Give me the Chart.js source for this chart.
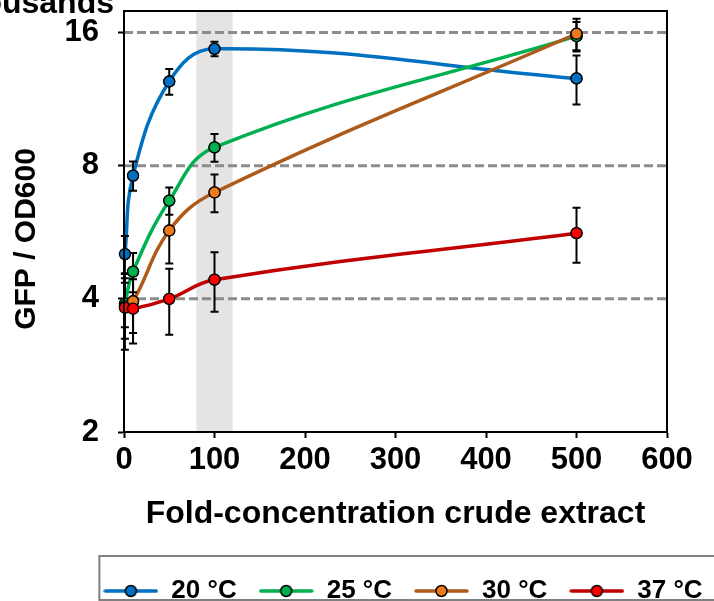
<!DOCTYPE HTML>
<html>
  <head>
    <script src="https://cdn.jsdelivr.net/npm/chart.js"></script>
    <style>
      html, body { margin: 0; padding: 0; background: #fff; }
    </style>
  </head>
  <body>
    <div style="position: relative; width: 714px; height: 601px;">
      <canvas id="gfp-chart"></canvas>
    </div>

    <script>
      // x = fold concentration of crude extract, y = GFP / OD600 (thousands)
      const concentrations = [1, 10, 50, 100, 500];
      const gfp20 = [5.05, 7.6, 12.4, 14.7, 12.6];
      const err20 = [0.5, 0.58, 0.83, 0.55, 1.6];
      const gfp25 = [3.9, 4.61, 6.67, 8.8, 15.7];
      const err25 = [0.45, 0.47, 0.47, 0.63, 1.2];
      const gfp30 = [3.85, 3.95, 5.71, 6.96, 15.9];
      const err30 = [0.6, 0.6, 0.9, 0.68, 1.3];
      const gfp37 = [3.82, 3.8, 4.0, 4.42, 5.63];
      const err37 = [0.75, 0.63, 0.68, 0.68, 0.8];
      const seriesLabels = ['20 °C', '25 °C', '30 °C', '37 °C'];
      const yTicks = [2, 4, 8, 16];
      const dashedLevels = [4, 8, 16];
      const shadedRange = [80, 120];

      const FONT = '"Liberation Sans", Arial, sans-serif';
      const lineColors = ['#0070C0', '#00B050', '#AD5A1B', '#C00000'];
      const markerColors = ['#0070C0', '#00B050', '#EC7A1A', '#FF0000'];
      const allValues = [gfp20, gfp25, gfp30, gfp37];
      const allErrors = [err20, err25, err30, err37];

      function makeIcon(lineColor, fillColor) {
        const c = document.createElement('canvas');
        c.width = 55; c.height = 16;
        const g = c.getContext('2d');
        g.strokeStyle = lineColor; g.lineWidth = 3.5; g.lineCap = 'round';
        g.beginPath(); g.moveTo(2, 8); g.lineTo(53, 8); g.stroke();
        g.beginPath(); g.arc(27.5, 8, 5.5, 0, 2 * Math.PI);
        g.fillStyle = fillColor; g.fill();
        g.lineWidth = 1.5; g.strokeStyle = '#000'; g.stroke();
        return c;
      }
      const legendIcons = lineColors.map((c, i) => makeIcon(c, markerColors[i]));

      const decorations = {
        id: 'decorations',
        beforeDatasetsDraw(chart) {
          const {ctx, chartArea: a, scales: {x, y}} = chart;
          ctx.save();
          const x0 = x.getPixelForValue(shadedRange[0]);
          const x1 = x.getPixelForValue(shadedRange[1]);
          ctx.fillStyle = '#e4e4e4';
          ctx.fillRect(x0, a.top, x1 - x0, a.bottom - a.top);
          ctx.strokeStyle = '#8c8c8c';
          ctx.lineWidth = 3;
          ctx.setLineDash([9, 4]);
          dashedLevels.forEach(v => {
            const py = y.getPixelForValue(v);
            ctx.beginPath(); ctx.moveTo(a.left, py); ctx.lineTo(a.right, py); ctx.stroke();
          });
          ctx.restore();
        },
        afterDatasetsDraw(chart) {
          const {ctx, chartArea: a, scales: {x, y}} = chart;
          ctx.save();
          ctx.strokeStyle = '#000';
          ctx.lineWidth = 2;
          allValues.forEach((vals, s) => {
            vals.forEach((v, i) => {
              const px = x.getPixelForValue(concentrations[i]);
              const top = y.getPixelForValue(v + allErrors[s][i]);
              const bot = y.getPixelForValue(v - allErrors[s][i]);
              ctx.beginPath();
              ctx.moveTo(px, top); ctx.lineTo(px, bot);
              ctx.moveTo(px - 4, top); ctx.lineTo(px + 4, top);
              ctx.moveTo(px - 4, bot); ctx.lineTo(px + 4, bot);
              ctx.stroke();
            });
          });
          // markers back on top of the error bars
          chart.data.datasets.forEach((ds, i) => {
            chart.getDatasetMeta(i).data.forEach(pt => pt.draw(ctx, a));
          });
          ctx.strokeStyle = '#000';
          ctx.lineWidth = 2;
          ctx.strokeRect(a.left, a.top, a.right - a.left, a.bottom - a.top);
          ctx.restore();
        },
        afterDraw(chart) {
          const {ctx} = chart;
          ctx.save();
          ctx.fillStyle = '#000';
          ctx.font = 'bold 32px ' + FONT;
          ctx.textAlign = 'right';
          ctx.textBaseline = 'alphabetic';
          ctx.fillText('Thousands', 114, 13);
          ctx.font = 'bold 30px ' + FONT;
          ctx.translate(27, 239);
          ctx.rotate(-Math.PI / 2);
          ctx.textAlign = 'center';
          ctx.textBaseline = 'middle';
          ctx.fillText('GFP / OD600', 0, 0);
          ctx.restore();

          const lg = chart.legend;
          const hb = lg.legendHitBoxes[0];
          ctx.save();
          ctx.strokeStyle = '#808080';
          ctx.lineWidth = 2;
          ctx.strokeRect(hb.left - 4, lg.top, chart.width, 44);
          ctx.restore();
        }
      };

      const noPad = s => { s.paddingTop = 0; s.paddingBottom = 0; };

      const ctx = document.getElementById('gfp-chart');
      const gfpChart = new Chart(ctx, {
        type: 'line',
        data: {
          datasets: allValues.map((vals, i) => ({
            label: seriesLabels[i],
            data: concentrations.map((c, j) => ({x: c, y: vals[j]})),
            borderColor: lineColors[i],
            backgroundColor: markerColors[i],
            borderWidth: 3.5,
            pointRadius: 5.5,
            pointBackgroundColor: markerColors[i],
            pointBorderColor: '#000',
            pointBorderWidth: 1.3,
            tension: 0.4,
            fill: false,
            order: 3 - i
          }))
        },
        options: {
          responsive: true,
          maintainAspectRatio: false,
          animation: false,
          layout: { padding: { left: 0, right: -92, top: 11, bottom: -13 } },
          scales: {
            x: {
              type: 'linear', min: 0, max: 600,
              ticks: { stepSize: 100, color: '#000', padding: 4, maxRotation: 0,
                       font: { family: FONT, size: 31, weight: 'bold' } },
              grid: { drawOnChartArea: false, tickLength: 6, tickWidth: 2, tickColor: '#000' },
              border: { color: '#000', width: 2 },
              title: { display: true, text: 'Fold-concentration crude extract', color: '#000',
                       font: { family: FONT, size: 32, weight: 'bold' },
                       padding: { top: 0, bottom: 23 } },
              afterFit: s => { s.height = 124; }
            },
            y: {
              type: 'logarithmic', min: 2, max: 17.9,
              afterBuildTicks: s => { s.ticks = yTicks.map(v => ({value: v})); },
              ticks: { callback: v => String(v), color: '#000', padding: 19, autoSkip: false,
                       font: { family: FONT, size: 31, weight: 'bold' } },
              grid: { drawOnChartArea: false, tickLength: 6, tickWidth: 2, tickColor: '#000' },
              border: { color: '#000', width: 2 },
              afterFit: s => { s.width = 124; noPad(s); }
            },
            yRight: {
              type: 'linear', axis: 'y', position: 'right', display: true,
              ticks: { display: false },
              grid: { display: false, drawTicks: false },
              border: { display: false },
              afterFit: s => { s.width = 139; noPad(s); }
            }
          },
          plugins: {
            tooltip: { enabled: false },
            legend: {
              position: 'bottom',
              align: 'center',
              labels: {
                usePointStyle: true,
                pointStyleWidth: 55,
                padding: 22,
                color: '#000',
                font: { family: FONT, size: 26, weight: 'bold' },
                sort: (a, b) => a.datasetIndex - b.datasetIndex,
                generateLabels: chart => Chart.defaults.plugins.legend.labels.generateLabels(chart)
                  .map(item => Object.assign(item, { pointStyle: legendIcons[item.datasetIndex] }))
              }
            }
          }
        },
        plugins: [decorations]
      });
    </script>
  </body>
</html>
